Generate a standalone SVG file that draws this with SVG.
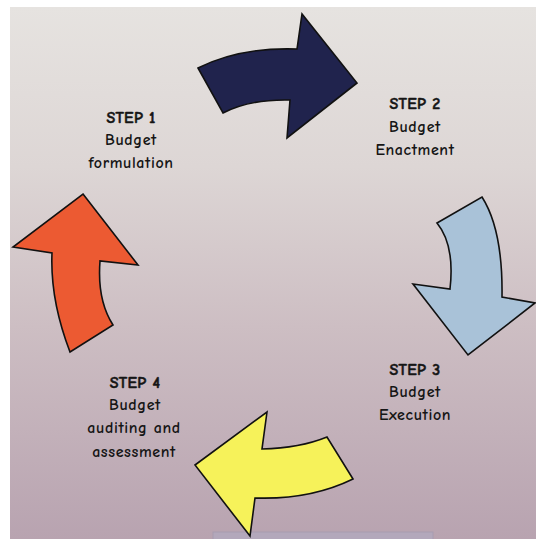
<svg xmlns="http://www.w3.org/2000/svg" width="536" height="539" viewBox="0 0 536 539">
  <defs>
    <linearGradient id="bg" x1="0" y1="0" x2="0" y2="1">
      <stop offset="0" stop-color="#e6e3e0"/>
      <stop offset="0.3" stop-color="#ddd6d5"/>
      <stop offset="0.6" stop-color="#cdbec3"/>
      <stop offset="1" stop-color="#b8a3b0"/>
    </linearGradient>
    <style>
      .lbl { font-family: "Comic Neue", "DejaVu Sans", "Noto Sans", sans-serif; font-weight: bold; font-size: 16px; letter-spacing: 0.6px; fill: #151515; text-anchor: middle; }
      .step { font-size: 16px; letter-spacing: 0.3px; stroke: #151515; stroke-width: 0.5; }
      .arrow { stroke: #111; stroke-width: 1.6; stroke-linejoin: miter; }
    </style>
  </defs>

  <rect x="0" y="0" width="536" height="539" fill="#ffffff"/>
  <rect x="10" y="7" width="526" height="532" fill="url(#bg)"/>
  <rect x="213" y="532" width="220" height="8" fill="#b3a8bb" stroke="#a79cb0" stroke-width="1"/>

  <g id="connectors">
    <path class="arrow" fill="#20234d" d="M198,68 Q240,47 297,49 L302,14 L357,83 L287,138 L290,100 Q250,99 223,113 Z"/>
    <path class="arrow" fill="#a9c2d8" d="M437,223 L482,197 Q503,230 502,297 L535,303 L468,355 L413,284 L450,289 Q455,245 437,223 Z"/>
    <path class="arrow" fill="#f6f25a" d="M267,412 L262,449 Q300,448 327,437 L353,479 Q310,500 255,498 L250,536 L195,465 Z"/>
    <path class="arrow" fill="#ec5a32" d="M83,194 L138,265 L100,261 Q97,300 113,325 L70,352 Q50,300 52,253 L13,247 Z"/>
  </g>

  <g id="step1">
    <text class="lbl step" x="131" y="123">STEP 1</text>
    <text class="lbl" x="131" y="145">Budget</text>
    <text class="lbl" x="131" y="168">formulation</text>
  </g>
  <g id="step2">
    <text class="lbl step" x="415" y="109">STEP 2</text>
    <text class="lbl" x="415" y="132">Budget</text>
    <text class="lbl" x="415" y="155">Enactment</text>
  </g>
  <g id="step3">
    <text class="lbl step" x="415" y="375">STEP 3</text>
    <text class="lbl" x="415" y="397">Budget</text>
    <text class="lbl" x="415" y="420">Execution</text>
  </g>
  <g id="step4">
    <text class="lbl step" x="135" y="388">STEP 4</text>
    <text class="lbl" x="135" y="410">Budget</text>
    <text class="lbl" x="134" y="433">auditing and</text>
    <text class="lbl" x="134" y="457">assessment</text>
  </g>
</svg>
